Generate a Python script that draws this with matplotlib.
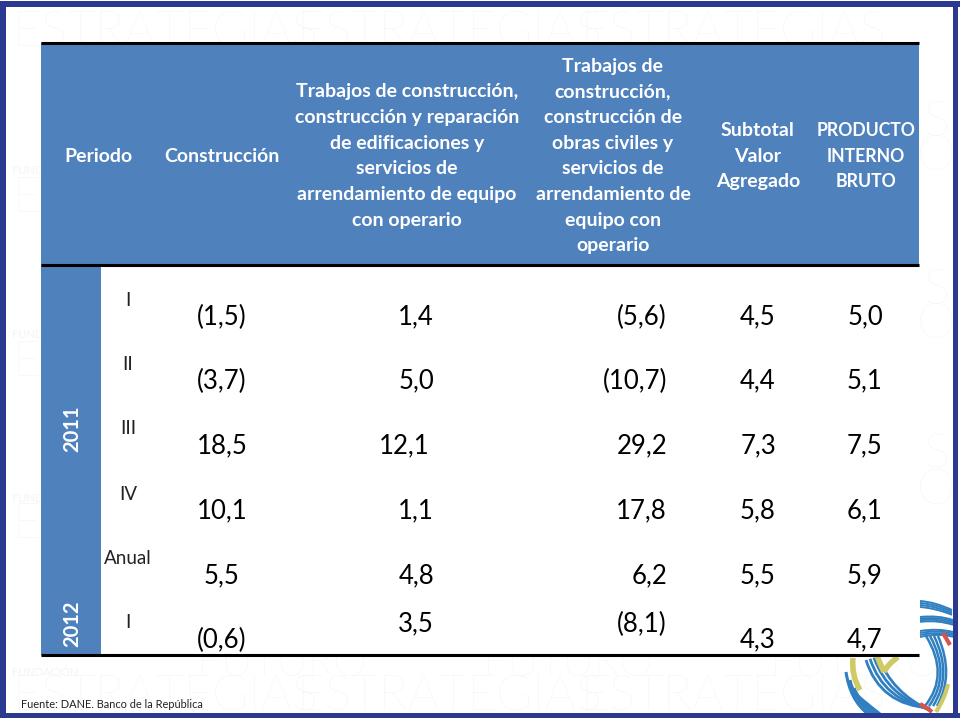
import matplotlib
matplotlib.use('Agg')
import matplotlib.pyplot as plt
from matplotlib.patches import Rectangle, PathPatch
from matplotlib.path import Path

# table content
periodos = ['I', 'II', 'III', 'IV', 'Anual', 'I']
construccion = ['(1,5)', '(3,7)', '18,5', '10,1', '5,5', '(0,6)']
edificaciones = ['1,4', '5,0', '12,1', '1,1', '4,8', '3,5']
obras_civiles = ['(5,6)', '(10,7)', '29,2', '17,8', '6,2', '(8,1)']
valor_agregado = ['4,5', '4,4', '7,3', '5,8', '5,5', '4,3']
pib = ['5,0', '5,1', '7,5', '6,1', '5,9', '4,7']

head_periodo = ['Periodo']
head_construccion = ['Construcción']
head_edificaciones = ['Trabajos de construcción,', 'construcción y reparación', 'de edificaciones y',
                      'servicios de', 'arrendamiento de equipo', 'con operario']
head_obras = ['Trabajos de', 'construcción,', 'construcción de', 'obras civiles y',
              'servicios de', 'arrendamiento de', 'equipo con', 'operario']
head_valor = ['Subtotal', 'Valor', 'Agregado']
head_pib = ['PRODUCTO', 'INTERNO', 'BRUTO']

BLUE = '#4F81BD'
FRAME = '#2B3990'
WATER = '#F4F4F4'
RING_BLUE = '#2F7FC1'
RING_YELLOW = '#CFCB62'
RING_RED = '#D9534A'

plt.rcParams['font.family'] = ['Lato', 'DejaVu Sans']

fig = plt.figure(figsize=(9.6, 7.2), dpi=100)
ax = fig.add_axes([0, 0, 1, 1])
ax.set_xlim(0, 960)
ax.set_ylim(720, 0)
ax.axis('off')


def box(x0, y0, x1, y1, color, z=1):
    ax.add_patch(Rectangle((x0, y0), x1 - x0, y1 - y0, fc=color, ec='none', zorder=z))


def curve(p0, p1, p2, color, lw=2.0):
    path = Path([p0, p1, p2], [Path.MOVETO, Path.CURVE3, Path.CURVE3])
    ax.add_patch(PathPatch(path, fc='none', ec=color, lw=lw, capstyle='butt', zorder=2))


def water(x, y, txt, size, ha='left', weight='light'):
    ax.text(x, y, txt, ha=ha, va='center', fontsize=size, color=WATER, fontweight=weight, zorder=0)


# watermark behind the table
for x in [12, 296, 580]:
    water(x, 33, 'ESTRATEGIAS', 35.5)
    water(x, 697, 'ESTRATEGIAS', 35.5)
for x in [197, 483, 770]:
    water(x, 664, 'FUTURO', 31)
for y in [198, 362, 525]:
    water(12, y, 'ES', 35.5)
    water(12, y - 27, 'FUNDACIÓN', 8, weight='normal')
water(12, 673, 'FUNDACIÓN', 8, weight='normal')
for y in [122, 290, 455]:
    water(936, y, 'S', 35.5, ha='center')
    water(936, y + 35, 'O', 35.5, ha='center')

# logo ring, lower right
for off in [0, 4, 8, 12]:
    curve((920, 601 + off * 0.5), (935, 602 + off * 0.5), (952, 610 + off * 0.4), RING_BLUE, 1.4)
    curve((920, 617 + off * 0.4), (938, 615 + off * 0.4), (953, 620 + off * 0.4), RING_BLUE, 1.4)
    curve((920, 631 + off * 0.5), (938, 628 + off * 0.4), (953, 632 + off * 0.4), RING_BLUE, 1.4)
    curve((926 + off, 636), (950 + off * 0.4, 675), (925 + off, 706), RING_BLUE, 1.8)
    curve((866 + off, 660 - off * 0.3), (880 + off, 705 - off), (930, 708 + off * 0.2), RING_BLUE, 2.0)
    curve((846 + off, 672 + off * 2), (850 + off, 700), (868 + off, 714), RING_BLUE, 2.2)
curve((853, 658), (851, 675), (860, 690), RING_YELLOW, 4)
curve((877, 656), (880, 664), (884, 672), RING_YELLOW, 4)
curve((884, 672), (888, 664), (898, 657), RING_YELLOW, 4)
curve((948, 684), (945, 698), (936, 712), RING_YELLOW, 3)
curve((920, 704), (926, 707), (932, 712), RING_RED, 3)
curve((943, 633), (946, 638), (950, 645), RING_RED, 3)

# table
box(41, 265, 919, 655, 'white', 1)
box(41, 43, 919, 265, BLUE, 3)
box(41, 265, 101, 655, BLUE, 3)
for y in [43, 265, 655]:
    ax.plot([41, 919], [y, y], color='black', lw=2.2, solid_capstyle='butt', zorder=4)

# slide frame
box(0, 1, 960, 7, FRAME, 5)
box(0, 713, 960, 718, FRAME, 5)
box(0, 1, 6, 718, FRAME, 5)
box(953, 1, 958, 718, FRAME, 5)

# header
headers = [(98, head_periodo, 14), (222, head_construccion, 14), (407, head_edificaciones, 14),
           (613, head_obras, 14), (758, head_valor, 14), (866, head_pib, 12.7)]
for x, lines, size in headers:
    for i, line in enumerate(lines):
        y = 156 + (i - (len(lines) - 1) / 2) * 25.7
        ax.text(x, y, line, ha='center', va='center', color='white', fontsize=size,
                fontweight='bold', zorder=6)

# years
ax.text(72, 429, '2011', rotation=90, ha='center', va='center', color='white', fontsize=14.5,
        fontweight='bold', zorder=6)
ax.text(72, 624, '2012', rotation=90, ha='center', va='center', color='white', fontsize=14.5,
        fontweight='bold', zorder=6)

# body rows
row_y = [317, 381, 446, 511, 576, 640]
for i, y in enumerate(row_y):
    ax.text(128, y - 17, periodos[i], ha='center', va='center', fontsize=13.5, color='#222222', zorder=6)
    ax.text(222, y, construccion[i], ha='center', va='center', fontsize=18.5, color='black', zorder=6)
    # the 2012 row is not on one baseline in the source slide
    y_up = y - 16 if i == 5 else y
    right = 430 if i == 2 else 434
    ax.text(right, y_up, edificaciones[i], ha='right', va='center', fontsize=18.5, color='black', zorder=6)
    ax.text(667, y_up, obras_civiles[i], ha='right', va='center', fontsize=18.5, color='black', zorder=6)
    ax.text(758, y, valor_agregado[i], ha='center', va='center', fontsize=18.5, color='black', zorder=6)
    ax.text(865, y, pib[i], ha='center', va='center', fontsize=18.5, color='black', zorder=6)

ax.text(21, 704, 'Fuente: DANE. Banco de la República', ha='left', va='center', fontsize=7.9,
        color='#222222', zorder=6)

fig.savefig('out.png', dpi=100)
